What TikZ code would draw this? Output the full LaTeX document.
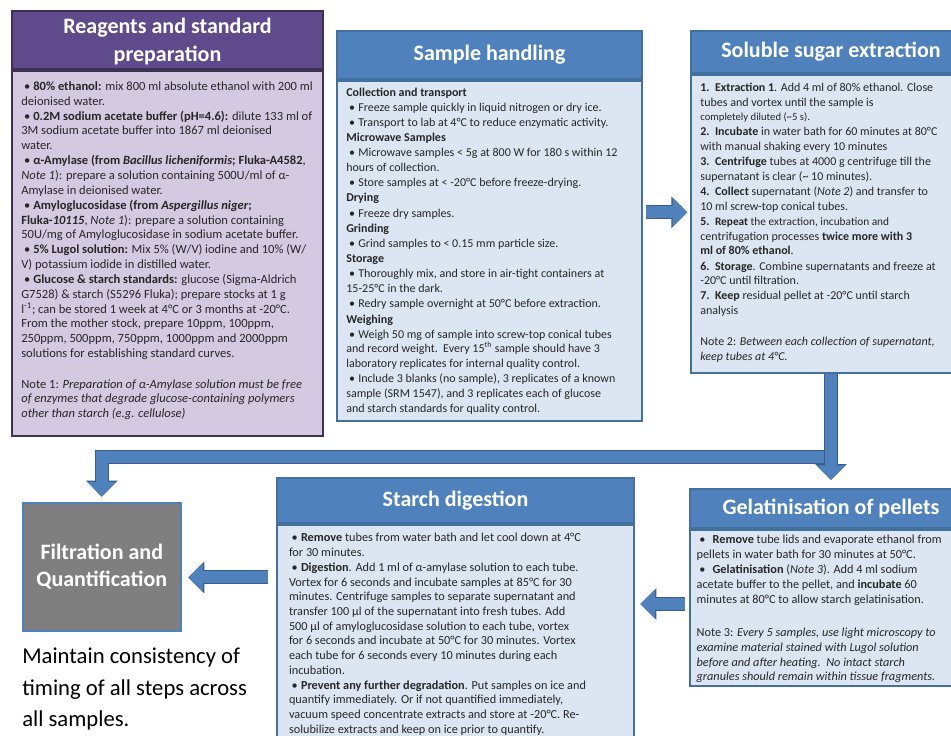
\documentclass[tikz,border=0pt]{standalone}
\usepackage{fontspec}
\setmainfont{Carlito}
\usepackage{tikz}
\usetikzlibrary{arrows.meta,positioning,calc}
\definecolor{hdblue}{HTML}{4F81BD}
\definecolor{bdblue}{HTML}{DCE6F2}
\definecolor{lnblue}{HTML}{41719C}
\definecolor{hdpurple}{HTML}{5F4A8B}
\definecolor{bdpurple}{HTML}{D3CAE2}
\definecolor{lnpurple}{HTML}{3F3151}
\definecolor{arrowedge}{HTML}{385D8A}
\definecolor{filtgray}{HTML}{7F7F7F}
\definecolor{bodytext}{HTML}{262626}
\newlength{\bhang}
\setlength{\bhang}{9pt}
\newcommand{\bitem}{\par\noindent\hangindent=\bhang\hangafter=1\makebox[\bhang][l]{\hspace{2pt}\textbullet}}
\newcommand{\nitem}[1]{\par\noindent\hangindent=11pt\hangafter=1\makebox[11pt][l]{\textbf{#1}}}
\newcommand{\subhead}[1]{\par\noindent\textbf{#1}}
\newcommand{\boxbody}[4]{\parbox[t][#1][t]{#2}{\fontsize{#3}{11}\selectfont\raggedright\parskip=0.4pt #4}}

\begin{document}
\begin{tikzpicture}[x=0.75pt,y=-0.75pt]
\tikzset{header/.style={draw=lnblue,line width=1.5pt,fill=hdblue,text=white,
  font=\fontsize{16.5}{19}\selectfont\bfseries,anchor=north west,inner sep=0pt,align=center}}
\tikzset{panel/.style={draw=lnblue,line width=1.5pt,fill=bdblue,text=bodytext,
  inner xsep=7pt,inner ysep=6pt,below=0pt of #1}}
\tikzset{blockarrow/.style={draw=hdblue,line width=9pt,-{Triangle[length=11pt,width=21pt]},
  preaction={draw=arrowedge,line width=10.5pt,-{Triangle[length=12pt,width=23pt]}}}}
\path[use as bounding box,clip] (0,0) rectangle (951,736);

\node[header,draw=lnpurple,fill=hdpurple,minimum width=233.25pt,minimum height=43.5pt] (reag) at (11,10)
  {\rule{0pt}{14pt}Reagents and standard\\[2pt]preparation};
\node[panel=reag,draw=lnpurple,fill=bdpurple,inner ysep=8pt] (reagbody) {\boxbody{257.75pt}{219.25pt}{9.4}{%
\bitem\textbf{80\% ethanol:} mix 800 ml absolute ethanol with 200 ml\\deionised water.
\bitem\textbf{0.2M sodium acetate buffer (pH=4.6):} dilute 133 ml of\\3M sodium acetate buffer into 1867 ml deionised\\water.
\bitem\textbf{α-Amylase (from \textit{Bacillus licheniformis}; Fluka-A4582},\\\textit{Note 1}): prepare a solution containing 500U/ml of α-\\Amylase in deionised water.
\bitem\textbf{Amyloglucosidase (from \textit{Aspergillus niger};}\\\textbf{Fluka-\textit{10115}}, \textit{Note 1}): prepare a solution containing\\50U/mg of Amyloglucosidase in sodium acetate buffer.
\bitem\textbf{5\% Lugol solution:} Mix 5\% (W/V) iodine and 10\% (W/\\V) potassium iodide in distilled water.
\bitem\textbf{Glucose \& starch standards:} glucose (Sigma-Aldrich\\G7528) \& starch (S5296 Fluka); prepare stocks at 1 g\\l\textsuperscript{-1}; can be stored 1 week at 4°C or 3 months at -20°C.\\From the mother stock, prepare 10ppm, 100ppm,\\250ppm, 500ppm, 750ppm, 1000ppm and 2000ppm\\solutions for establishing standard curves.
\par\vspace{12pt}\noindent Note 1: \textit{Preparation of α-Amylase solution must be free\\of enzymes that degrade glucose-containing polymers\\other than starch (e.g. cellulose)}}};

\node[header,minimum width=228.75pt,minimum height=36pt] (hand) at (336,30) {Sample handling};
\node[panel=hand,inner ysep=5pt] (handbody) {\boxbody{245pt}{214.75pt}{9}{%
\subhead{Collection and transport}
\bitem Freeze sample quickly in liquid nitrogen or dry ice.
\bitem Transport to lab at 4°C to reduce enzymatic activity.
\subhead{Microwave Samples}
\bitem Microwave samples < 5g at 800 W for 180 s within 12\\hours of collection.
\bitem Store samples at < -20°C before freeze-drying.
\subhead{Drying}
\bitem Freeze dry samples.
\subhead{Grinding}
\bitem Grind samples to < 0.15 mm particle size.
\subhead{Storage}
\bitem Thoroughly mix, and store in air-tight containers at\\15-25°C in the dark.
\bitem Redry sample overnight at 50°C before extraction.
\subhead{Weighing}
\bitem Weigh 50 mg of sample into screw-top conical tubes\\and record weight.\ \ Every 15\textsuperscript{th} sample should have 3\\laboratory replicates for internal quality control.
\bitem Include 3 blanks (no sample), 3 replicates of a known\\sample (SRM 1547), and 3 replicates each of glucose\\and starch standards for quality control.}};

\node[header,minimum width=210pt,minimum height=31.5pt] (sol) at (690,30) {Soluble sugar extraction};
\node[panel=sol] (solbody) {\boxbody{211.5pt}{196pt}{9}{%
\nitem{1.}\textbf{Extraction 1}. Add 4 ml of 80\% ethanol. Close\\tubes and vortex until the sample is\\{\fontsize{8}{11}\selectfont completely diluted (\textasciitilde5 s).}
\nitem{2.}\textbf{Incubate} in water bath for 60 minutes at 80°C\\with manual shaking every 10 minutes
\nitem{3.}\textbf{Centrifuge} tubes at 4000 g centrifuge till the\\supernatant is clear (\textasciitilde{} 10 minutes).
\nitem{4.}\textbf{Collect} supernatant (\textit{Note 2}) and transfer to\\10 ml screw-top conical tubes.
\nitem{5.}{\fontsize{8.5}{11}\selectfont\textbf{Repeat} the extraction, incubation and}\\centrifugation processes \textbf{twice more with 3}\\\textbf{ml of 80\% ethanol}.
\nitem{6.}\textbf{Storage}. Combine supernatants and freeze at\\-20°C until filtration.
\nitem{7.}\textbf{Keep} residual pellet at -20°C until starch\\analysis
\par\vspace{12pt}\noindent Note 2: \textit{Between each collection of supernatant,\\keep tubes at 4°C.}}};

\node[header,minimum width=267.75pt,minimum height=33.75pt] (starch) at (276,477) {Starch digestion};
\node[panel=starch,inner xsep=9pt] (starchbody) {\boxbody{189pt}{249.75pt}{9.2}{%
\bitem\textbf{Remove} tubes from water bath and let cool down at 4°C\\for 30 minutes.
\bitem\textbf{Digestion}. Add 1 ml of α-amylase solution to each tube.\\Vortex for 6 seconds and incubate samples at 85°C for 30\\minutes. Centrifuge samples to separate supernatant and\\transfer 100 µl of the supernatant into fresh tubes. Add\\500 µl of amyloglucosidase solution to each tube, vortex\\for 6 seconds and incubate at 50°C for 30 minutes. Vortex\\each tube for 6 seconds every 10 minutes during each\\incubation.
\bitem\textbf{Prevent any further degradation}. Put samples on ice and\\quantify immediately. Or if not quantified immediately,\\vacuum speed concentrate extracts and store at -20°C. Re-\\solubilize extracts and keep on ice prior to quantify.}};

\node[header,minimum width=211.5pt,minimum height=29.25pt] (gel) at (689,488) {Gelatinisation of pellets};
\node[panel=gel,inner xsep=5pt,inner ysep=4pt] (gelbody) {\boxbody{109pt}{201.5pt}{9.2}{\setlength{\bhang}{12pt}%
\bitem\textbf{Remove} tube lids and evaporate ethanol from\\pellets in water bath for 30 minutes at 50°C.
\bitem\textbf{Gelatinisation} (\textit{Note 3}). Add 4 ml sodium\\acetate buffer to the pellet, and \textbf{incubate} 60\\minutes at 80°C to allow starch gelatinisation.
\par\vspace{14pt}\noindent Note 3: \textit{Every 5 samples, use light microscopy to\\examine material stained with Lugol solution\\before and after heating.\ \ No intact starch\\granules should remain within tissue fragments.}}};

\node[draw=hdblue,line width=1.2pt,fill=filtgray,text=white,font=\fontsize{16.5}{20}\selectfont\bfseries,
  minimum width=118.5pt,minimum height=96pt,anchor=north west,align=center] (filt) at (22,502)
  {Filtration and\\Quantification};
\node[anchor=north west,align=left,inner sep=0pt,text=black,font=\fontsize{17}{23.5}\selectfont] (timing) at (22,648)
  {Maintain consistency of\\timing of all steps across\\all samples.};

\draw[blockarrow] ([shift={(2pt,29pt)}]handbody.east) -- ([shift={(-2pt,29pt)}]handbody.east -| sol.west);
\draw[blockarrow] ([yshift=-62pt]solbody.south) -| ([yshift=4pt]filt.north);
\draw[blockarrow] (solbody.south) -- ([yshift=6pt]gel.north);
\draw[blockarrow] ([shift={(-3pt,3pt)}]gelbody.west) -- ([shift={(4pt,3pt)}]starchbody.east |- gelbody.west);
\draw[blockarrow] ([shift={(-6pt,-8pt)}]filt.east -| starchbody.west) -- ([shift={(5pt,-8pt)}]filt.east);
\end{tikzpicture}
\end{document}
